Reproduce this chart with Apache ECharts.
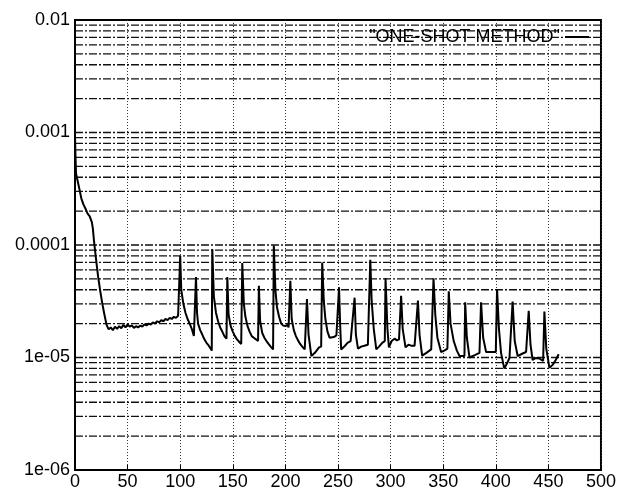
<!DOCTYPE html>
<html>
<head>
<meta charset="utf-8">
<script src="https://cdn.jsdelivr.net/npm/echarts@6/dist/echarts.min.js"></script>
<style>html,body{margin:0;padding:0;background:#fff;}#c{width:619px;height:491px;}</style>
</head>
<body>
<div id="c"></div>
<script>
const seriesName = '"ONE-SHOT METHOD"';
const iterations = [0,0.5,1,2,4,6,8,10,12,14,16,17,18,20,22,24,26,28,30,32,34,36,38,40,42,44,46,48,50,52,54,56,58,60,62,64,66,68,70,72,74,76,78,80,82,84,86,88,90,92,94,96,98,99.5,
100,101,103,105,107,109,111,113,114,115,116,117,119,121,123,125,127,129,130,130.5,132,134,136,138,140,142,144,144.8,146,148,150,152,154,156,158,159,160.5,162,164,166,168,170,172,174,174.8,176,178,180,182,184,186,188.3,189,190.5,192,194,196,198,200,202,203,204.7,206,208,210,212,214,216,218.4,220.5,222,224.7,228,232,234,
235,236.5,238,240,242,246,248.5,251,252,253,256,259,262,265.8,267,269,272,275,278.4,280.7,282,284,286.4,289,292,294.5,295.2,297,298.4,301,303.8,306,308,310,311.5,314.2,317,320,322.8,326,327.5,330,334,338.6,340.8,342.5,344.5,348,351,354,355.3,357,360,363,365.5,370.2,370.9,372.5,375,380,384.5,386,388,390.8,395,400,401.2,403,405,408,411,413,416,418,420.8,425,428.8,431.3,433,435,438,441.4,443,445,446.2,448,451,454,457,459.8];
const residual = [9.5e-4,6e-4,4.3e-4,3.9e-4,3.2e-4,2.6e-4,2.3e-4,2.1e-4,1.9e-4,1.8e-4,1.6e-4,1.4e-4,1.1e-4,7.5e-5,5.2e-5,3.9e-5,3.0e-5,2.4e-5,1.95e-5,1.78e-5,1.85e-5,1.75e-5,1.88e-5,1.8e-5,1.9e-5,1.82e-5,1.95e-5,1.85e-5,1.97e-5,1.88e-5,1.93e-5,1.83e-5,1.9e-5,1.85e-5,1.92e-5,1.88e-5,1.97e-5,1.93e-5,2.0e-5,1.96e-5,2.05e-5,2.0e-5,2.1e-5,2.05e-5,2.15e-5,2.1e-5,2.2e-5,2.15e-5,2.25e-5,2.2e-5,2.3e-5,2.25e-5,2.35e-5,2.4e-5,
8.0e-5,4.0e-5,3.0e-5,2.5e-5,2.2e-5,2.0e-5,1.8e-5,1.55e-5,1.5e-5,5.2e-5,2.5e-5,2.0e-5,1.75e-5,1.6e-5,1.45e-5,1.35e-5,1.28e-5,1.2e-5,1.15e-5,9.2e-5,3.5e-5,2.5e-5,2.1e-5,1.85e-5,1.7e-5,1.55e-5,1.47e-5,5.2e-5,2.4e-5,1.9e-5,1.7e-5,1.55e-5,1.45e-5,1.38e-5,1.32e-5,6.9e-5,3e-5,2.3e-5,1.9e-5,1.7e-5,1.55e-5,1.5e-5,1.45e-5,1.4e-5,4.35e-5,2.1e-5,1.65e-5,1.5e-5,1.4e-5,1.32e-5,1.25e-5,1.18e-5,9.9e-5,4e-5,2.8e-5,2.3e-5,2.0e-5,1.92e-5,1.9e-5,1.95e-5,1.85e-5,4.8e-5,2.2e-5,1.75e-5,1.55e-5,1.42e-5,1.32e-5,1.25e-5,1.18e-5,3.3e-5,1.6e-5,1.03e-5,1.1e-5,1.23e-5,1.25e-5,
7.0e-5,3.2e-5,2.2e-5,1.7e-5,1.5e-5,1.52e-5,1.57e-5,4.2e-5,2e-5,1.18e-5,1.25e-5,1.35e-5,1.4e-5,3.4e-5,1.6e-5,1.2e-5,1.25e-5,1.27e-5,1.3e-5,7.4e-5,3.2e-5,1.8e-5,1.18e-5,1.25e-5,1.35e-5,1.4e-5,5.05e-5,1.8e-5,1.23e-5,1.4e-5,1.47e-5,1.42e-5,1.45e-5,3.54e-5,1.8e-5,1.23e-5,1.3e-5,1.27e-5,1.27e-5,3.2e-5,1.6e-5,1.04e-5,1.1e-5,1.18e-5,5.05e-5,2.4e-5,1.5e-5,1.12e-5,1.15e-5,1.2e-5,3.87e-5,2e-5,1.4e-5,1.15e-5,1.03e-5,1.03e-5,3.1e-5,1.5e-5,1e-5,1.05e-5,1.1e-5,3.1e-5,1.5e-5,1.12e-5,1.12e-5,1.12e-5,4.06e-5,1.8e-5,1.1e-5,8e-6,9e-6,9.9e-6,3.15e-5,1.4e-5,1.03e-5,1.08e-5,1.12e-5,2.6e-5,1.3e-5,9.5e-6,9.9e-6,9.8e-6,1.02e-5,9.3e-6,2.56e-5,1.2e-5,8.1e-6,8.6e-6,9.5e-6,1.07e-5];
const yTickValues = [1e-6,1e-5,1e-4,1e-3,1e-2];
const yTickLabels = ['1e-06','1e-05','0.0001','0.001','0.01'];
const xTickLabels = ['0','50','100','150','200','250','300','350','400','450','500'];
const minorMultipliers = [2,3,4,5,6,7,8,9];
const decades = [1e-6,1e-5,1e-4,1e-3];

const gridValues = [];
decades.forEach(d => minorMultipliers.forEach(m => gridValues.push(+(d*m).toPrecision(3))));
gridValues.push(1e-5,1e-4,1e-3);

const pts = iterations.map((x,i)=>[x,residual[i]]);
const font = 'Liberation Sans, Arial, sans-serif';

const gridSeries = gridValues.map(v => ({
  type:'line', data:[[0,v],[500,v]], symbol:'none', silent:true,
  lineStyle:{color:'#111',type:[8,2,2,2],width:1.3}, z:1, legendHoverLink:false
}));

const chart = echarts.init(document.getElementById('c'), null, {renderer:'canvas'});
chart.setOption({
  animation:false,
  backgroundColor:'#fff',
  grid:{left:75,right:17,top:20,bottom:20,show:true,borderColor:'#000',borderWidth:2,backgroundColor:'transparent'},
  legend:{
    right:25, top:23, align:'right', itemWidth:24, itemHeight:14, itemGap:8,
    textStyle:{fontFamily:font,fontSize:18,color:'#000'},
    data:[{name:seriesName, icon:'path://M0,6 L24,6 L24,8 L0,8 Z'}],
    itemStyle:{color:'#000'}
  },
  xAxis:{
    type:'value', min:0, max:500, interval:50,
    axisLine:{show:true,lineStyle:{color:'#000',width:2}},
    axisTick:{show:true,inside:true,length:5,lineStyle:{color:'#000'}},
    axisLabel:{fontFamily:font,fontSize:18,color:'#000',margin:3,
      formatter:(v)=>xTickLabels[Math.round(v/50)]},
    splitLine:{show:true,lineStyle:{color:'#333',type:[1,2],width:1}}
  },
  yAxis:{
    type:'log', logBase:10, min:1e-6, max:1e-2, splitNumber:4,
    axisLine:{show:true,lineStyle:{color:'#000',width:2}},
    axisTick:{show:false},
    axisLabel:{fontFamily:font,fontSize:18,color:'#000',margin:5,
      formatter:(v)=>{
        let best=0,bd=1e9;
        yTickValues.forEach((t,i)=>{const d=Math.abs(Math.log10(t)-Math.log10(v)); if(d<bd){bd=d;best=i;}});
        return yTickLabels[best];
      }},
    splitLine:{show:false}
  },
  series:[{
    name:seriesName, type:'line', data:pts, symbol:'none', smooth:false,
    lineStyle:{color:'#000',width:2}, itemStyle:{color:'#000'}, z:3
  }].concat(gridSeries)
});
</script>
</body>
</html>
